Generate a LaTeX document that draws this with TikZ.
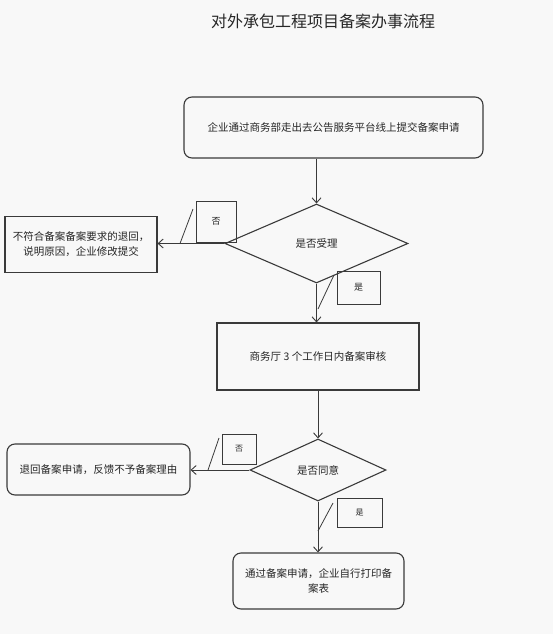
\documentclass[tikz,border=0pt]{standalone}
\usepackage{fontspec}
\newfontfamily\cjk{Noto Sans CJK SC}
\usetikzlibrary{shapes.geometric,arrows.meta}
\definecolor{ln}{HTML}{3A3A3A}
\definecolor{bg}{HTML}{F8F8F8}
\begin{document}
\begin{tikzpicture}[x=1pt,y=-1pt,
  every node/.style={font=\cjk\fontsize{10.5}{15}\selectfont, text=black!85, inner sep=0pt, align=center},
  boxr/.style={draw=ln, line width=1.1pt, rounded corners=8pt},
  boxs/.style={draw=ln, line width=1.1pt},
  dia/.style={draw=ln, line width=1.1pt, diamond, aspect=2.3},
  lab/.style={draw=ln, line width=0.9pt, font=\cjk\fontsize{9}{11}\selectfont},
  conn/.style={draw=ln, line width=0.9pt, -{Straight Barb[length=5pt,width=9pt]}},
  tick/.style={draw=ln, line width=0.8pt}]
\fill[bg] (0,0) rectangle (553,634);
\useasboundingbox (0,0) rectangle (553,634);
\node[font=\cjk\fontsize{16}{18}\selectfont] (title) at (323,21) {对外承包工程项目备案办事流程};
\node[boxr, minimum width=299pt, minimum height=61pt] (b1) at (333.5,127.5) {企业通过商务部走出去公告服务平台线上提交备案申请};
\node[dia, minimum width=183pt, minimum height=79pt] (d1) at (316.5,243.5) {是否受理};
\node[boxs, minimum width=152pt, minimum height=56pt] (lb1) at (81,244.5) {不符合备案备案要求的退回，\\说明原因，企业修改提交};
\node[lab, minimum width=40pt, minimum height=41pt] (n1) at (216,221.5) {否};
\node[lab, minimum width=43pt, minimum height=33pt] (y1) at (358.5,287.5) {是};
\node[boxs, minimum width=202pt, minimum height=67pt] (b2) at (318,356.5) {商务厅 3 个工作日内备案审核};
\node[dia, minimum width=136pt, minimum height=62pt] (d2) at (318,470) {是否同意};
\node[boxr, minimum width=183pt, minimum height=51pt] (lb2) at (98.5,469.5) {退回备案申请，反馈不予备案理由};
\node[lab, minimum width=34pt, minimum height=30pt, font=\cjk\fontsize{8}{10}\selectfont] (n2) at (239,449) {否};
\node[lab, minimum width=45pt, minimum height=29pt, font=\cjk\fontsize{8}{10}\selectfont] (y2) at (359.5,512.5) {是};
\node[boxr, minimum width=171pt, minimum height=56pt, text width=160pt] (b3) at (318.5,581) {通过备案申请，企业自行打印备\\案表};
% connectors
\draw[conn] (d1.north |- b1.south) -- (d1.north);
\draw[conn] (d1.west) -- (lb1.east |- d1.west);
\draw[conn] (d1.south) -- (d1.south |- b2.north);
\draw[conn] (d2.north |- b2.south) -- (d2.north);
\draw[conn] (d2.west) -- (lb2.east |- d2.west);
\draw[conn] (d2.south) -- (d2.south |- b3.north);
% label callouts
\coordinate (c1a) at (180,243.5); \coordinate (c1b) at (193,209);
\coordinate (c2a) at (318,309); \coordinate (c2b) at (334,275);
\coordinate (c3a) at (208,470); \coordinate (c3b) at (219,438);
\coordinate (c4a) at (318,531); \coordinate (c4b) at (333,503);
\draw[tick] (c1a) -- (c1b);
\draw[tick] (c2a) -- (c2b);
\draw[tick] (c3a) -- (c3b);
\draw[tick] (c4a) -- (c4b);
\end{tikzpicture}
\end{document}
